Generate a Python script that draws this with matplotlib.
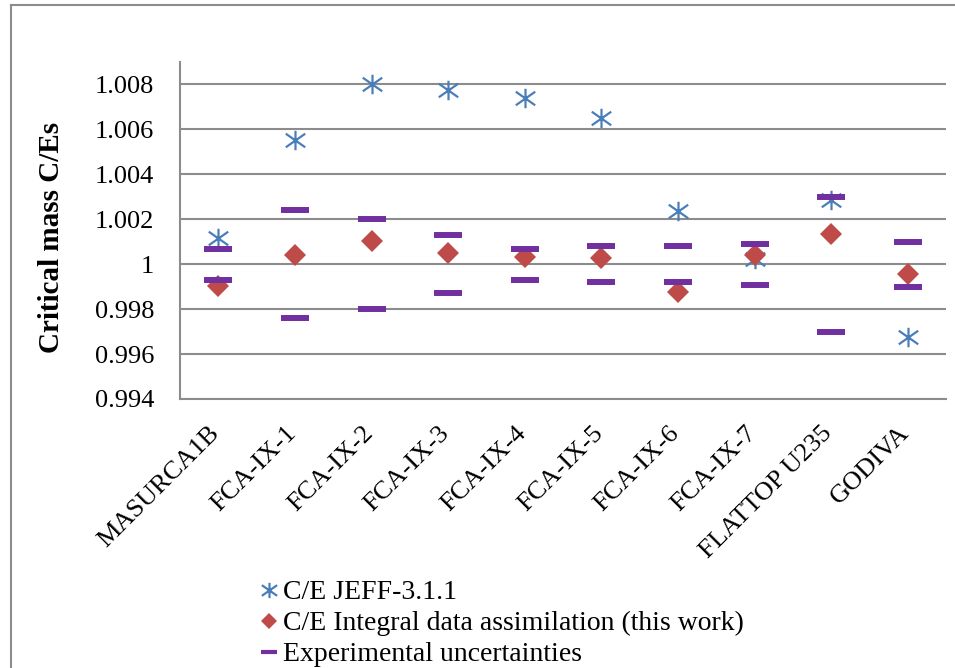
import numpy as np
import matplotlib
matplotlib.use("Agg")
import matplotlib.pyplot as plt
from matplotlib.lines import Line2D
from matplotlib.path import Path
from matplotlib.transforms import ScaledTranslation

plt.rcParams['font.family'] = ['Liberation Serif', 'DejaVu Serif']

# Data
cases = ['MASURCA1B', 'FCA-IX-1', 'FCA-IX-2', 'FCA-IX-3', 'FCA-IX-4',
         'FCA-IX-5', 'FCA-IX-6', 'FCA-IX-7', 'FLATTOP U235', 'GODIVA']
ce_jeff = [1.00116, 1.00555, 1.00800, 1.00777, 1.00741,
           1.00649, 1.00238, 1.00025, 1.00284, 0.99678]
ce_assim = [0.99902, 1.00043, 1.00102, 1.00051, 1.00032,
            1.00026, 0.99877, 1.00043, 1.00134, 0.99958]
exp_upper = [1.00068, 1.00239, 1.00200, 1.00130, 1.00068,
             1.00081, 1.00081, 1.00090, 1.00298, 1.00099]
exp_lower = [0.99930, 0.99761, 0.99801, 0.99872, 0.99930,
             0.99921, 0.99921, 0.99908, 0.99699, 0.99899]

blue = '#4A7EBB'
red = '#BE4B48'
purple = '#7030A0'
grey = '#8C8C8C'

# Excel style asterisk: vertical bar plus an X
star = Path([(0, -1), (0, 1), (-1, -0.7), (1, 0.7), (-1, 0.7), (1, -0.7)],
            [Path.MOVETO, Path.LINETO, Path.MOVETO, Path.LINETO, Path.MOVETO, Path.LINETO])

fig = plt.figure(figsize=(9.55, 6.68), dpi=100)
ax = fig.add_axes([0.1885, 0.4027, 0.8021, 0.5045])

x = np.arange(len(cases))

ax.plot(x, ce_jeff, linestyle='none', marker=star, markersize=14,
        markeredgewidth=1.6, color=blue, markerfacecolor='none',
        label='C/E JEFF-3.1.1', zorder=3)
ax.plot(x, ce_assim, linestyle='none', marker='D', markersize=11,
        color=red, markeredgewidth=0, label='C/E Integral data assimilation (this work)', zorder=4)
ax.plot(np.concatenate([x, x]), exp_upper + exp_lower, linestyle='none', marker='_',
        markersize=19.5, markeredgewidth=4.3, color=purple,
        label='Experimental uncertainties', zorder=5)

ax.set_xlim(-0.5, len(cases) - 0.5)
ax.set_ylim(0.994, 1.009)
ax.set_yticks(np.arange(0.994, 1.0085, 0.002))
ax.set_yticklabels(['0.994', '0.996', '0.998', '1', '1.002', '1.004', '1.006', '1.008'])
ax.yaxis.grid(True, color=grey, linewidth=1.5)
ax.set_axisbelow(True)
ax.tick_params(axis='both', length=0, labelsize=19)
ax.tick_params(axis='y', pad=18.5)

ax.set_xticks(x)
ax.set_xticklabels(cases, rotation=45, ha='right', va='center', rotation_mode='anchor')
offset = ScaledTranslation(-2 / 100, -26 / 100, fig.dpi_scale_trans)
for lab in ax.get_xticklabels():
    lab.set_transform(lab.get_transform() + offset)

for s in ['top', 'right']:
    ax.spines[s].set_visible(False)
for s in ['left', 'bottom']:
    ax.spines[s].set_color(grey)
    ax.spines[s].set_linewidth(1.5)

ax.set_ylabel('Critical mass C/Es', fontsize=21, fontweight='bold')
ax.yaxis.set_label_coords(-0.150, 0.478)

leg = ax.legend(loc='upper left', bbox_to_anchor=(0.272, 0.132), bbox_transform=fig.transFigure,
                frameon=False, fontsize=20, handlelength=0.7, handletextpad=0.15,
                labelspacing=0.2, borderpad=0, borderaxespad=0)
hs = leg.legend_handles
hs[0].set_markersize(11)
hs[1].set_markersize(8.5)
hs[2].set_markersize(12)
hs[2].set_markeredgewidth(3)

# outer chart frame (left and top edges only visible)
fig.add_artist(Line2D([11 / 955, 11 / 955], [0, 1 - 5 / 668], color=grey, linewidth=1.5,
                      transform=fig.transFigure))
fig.add_artist(Line2D([11 / 955, 1], [1 - 5 / 668, 1 - 5 / 668], color=grey, linewidth=1.5,
                      transform=fig.transFigure))

fig.savefig('out.png', dpi=100)
